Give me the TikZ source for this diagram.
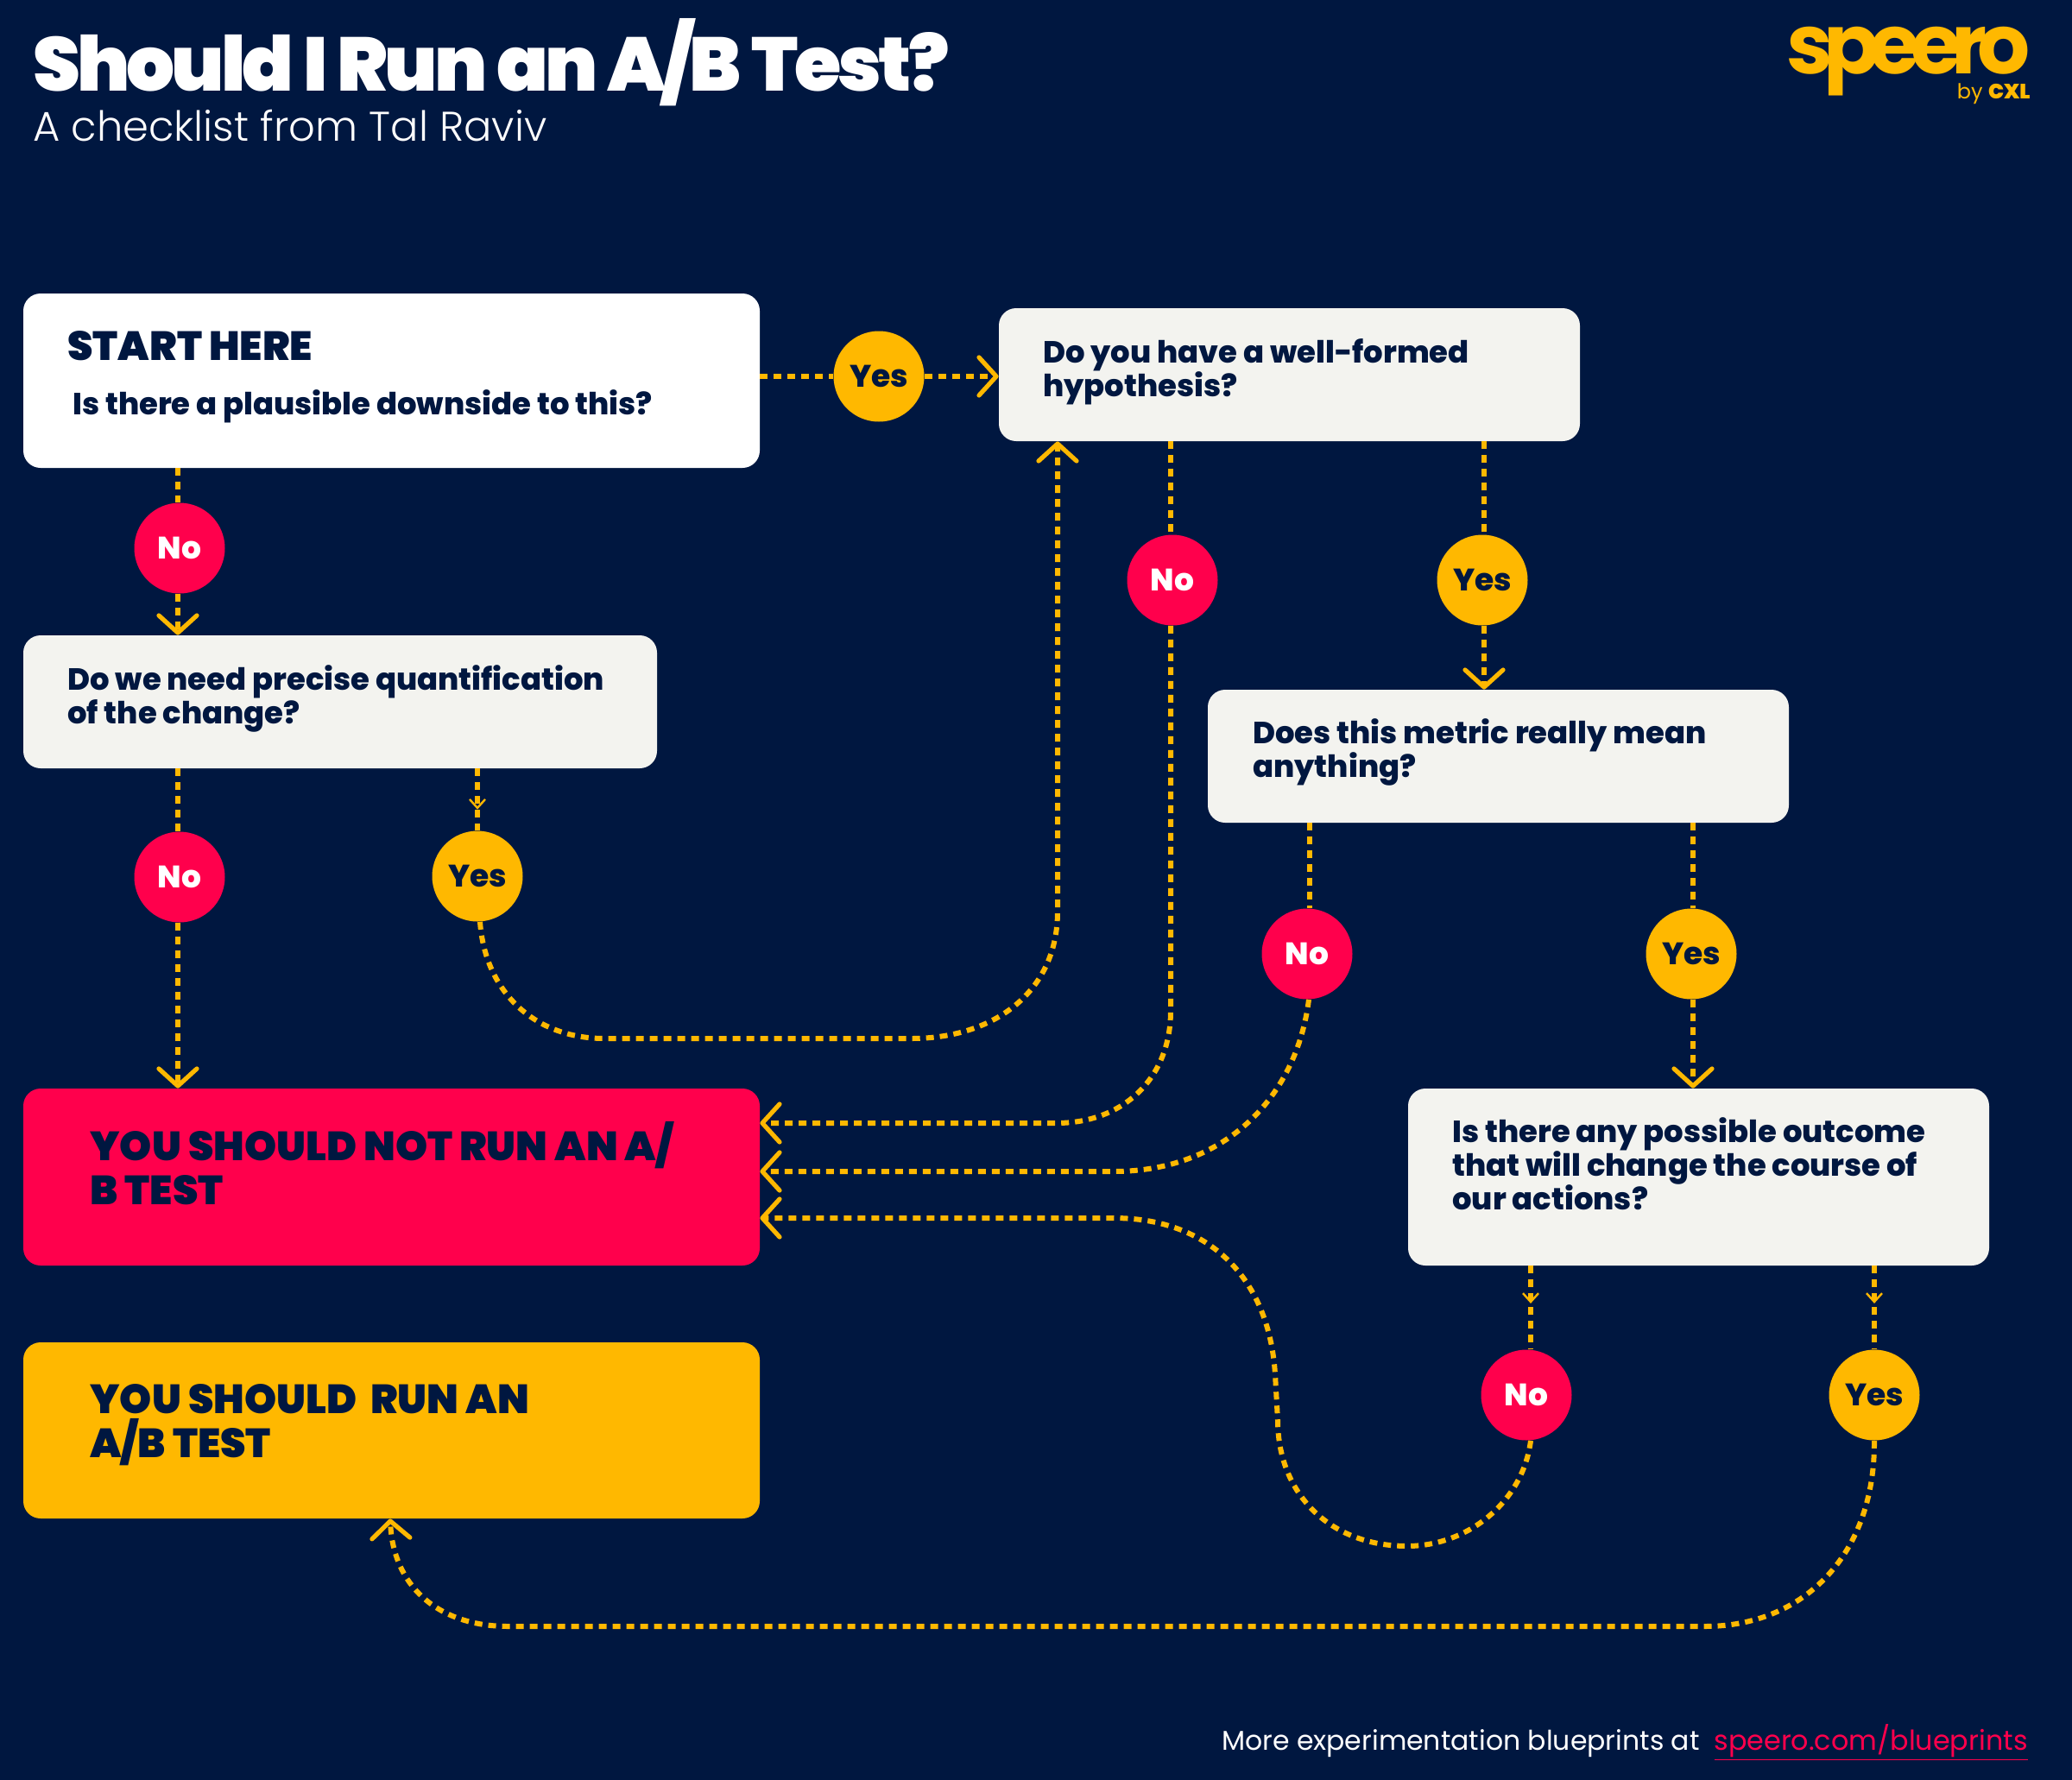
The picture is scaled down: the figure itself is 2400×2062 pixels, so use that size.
\documentclass[tikz,border=0pt]{standalone}
\usepackage{fontspec}
\usetikzlibrary{arrows.meta,fit,decorations.markings}
\setmainfont{Poppins}
\newfontfamily\popheavy{Poppins ExtraBold}
\newfontfamily\popblack{Poppins Black}
\newfontfamily\poplight{Poppins Light}
\newfontfamily\poptitle{Poppins Black}[LetterSpace=-4.5]
\newfontfamily\poplogo{Poppins Bold}[LetterSpace=-12]
\definecolor{navy}{HTML}{001740}
\definecolor{amber}{HTML}{FFB800}
\definecolor{alarm}{HTML}{FF004C}
\definecolor{paper}{HTML}{F3F3EF}
\tikzset{
  box/.style={rounded corners=10pt, inner sep=0pt, fill=paper},
  qtext/.style={font=\fontsize{17.7}{19.5}\selectfont\popheavy, text=navy, align=left, inner sep=0pt, anchor=north west},
  bigtext/.style={font=\fontsize{23.6}{25.5}\selectfont\popblack, text=navy, align=left, inner sep=0pt, anchor=north west},
  yesdot/.style={circle, fill=amber, minimum size=52.5pt, inner sep=0pt, text=navy, font=\fontsize{18}{20}\selectfont\popheavy},
  nodot/.style={circle, fill=alarm, minimum size=52.5pt, inner sep=0pt, text=white, font=\fontsize{18}{20}\selectfont\popheavy},
  link/.style={draw=amber, line width=3pt, dash pattern=on 4.5pt off 3.5pt},
  tip/.style={link, -{Straight Barb[length=10pt,width=22pt,round,line width=2.6pt]}},
  midtip/.style={link, postaction={decorate}, decoration={markings,
    mark=at position #1 with {\arrow[draw=amber,solid]{Straight Barb[length=5pt,width=9pt,line width=1.2pt]}}}},
}
\newcommand{\yes}[2]{\node[yesdot] (#1) at (#2) {Yes};}
\newcommand{\nope}[2]{\node[nodot] (#1) at (#2) {No};}
\begin{document}
\begin{tikzpicture}[x=0.5pt,y=-0.5pt]
  \useasboundingbox (0,0) rectangle (2400,2062);
  \fill[navy] (0,0) rectangle (2400,2062);
  % heading
  \node[anchor=base west, inner sep=0pt, text=white, font=\fontsize{44}{44}\selectfont\poptitle] (title) at (38,105) {Should I Run an A/B Test?};
  \node[anchor=base west, inner sep=0pt, text=white, font=\fontsize{24}{24}\selectfont\poplight] (sub) at (38,163) {A checklist from Tal Raviv};
  \node[anchor=base east, inner sep=0pt, text=amber, font=\fontsize{48}{48}\selectfont\poplogo] (logo) at (2352,85) {speero};
  \node[anchor=base east, inner sep=0pt, text=amber, font=\fontsize{12}{12}\selectfont] (byline) at (2352,114) {by {\popblack CXL}};
  % boxes
  \node[box, fill=white, fit={(27,340) (880,542)}] (start) {};
  \node[box, fit={(1157,357) (1830,511)}] (hyp) {};
  \node[box, fit={(27,736) (761,890)}] (precise) {};
  \node[box, fit={(1399,799) (2072,953)}] (metric) {};
  \node[box, fit={(1631,1261) (2304,1466)}] (outcome) {};
  \node[box, fill=alarm, fit={(27,1261) (880,1466)}] (notrun) {};
  \node[box, fill=amber, fit={(27,1555) (880,1759)}] (dorun) {};
  \node[bigtext] (starthead) at (78,383) {START HERE};
  \node[qtext] (startq) at (84,451) {Is there a plausible downside to this?};
  \node[qtext] (hypq) at (1208,392) {Do you have a well-formed\\hypothesis?};
  \node[qtext] (preciseq) at (78,770) {Do we need precise quantification\\of the change?};
  \node[qtext] (metricq) at (1451,832) {Does this metric really mean\\anything?};
  \node[qtext] (outcomeq) at (1682,1294) {Is there any possible outcome\\that will change the course of\\our actions?};
  \node[bigtext] (notruntxt) at (104,1299) {YOU SHOULD NOT RUN AN A/\\B TEST};
  \node[bigtext] (doruntxt) at (104,1603) {YOU SHOULD\ \ RUN AN\\A/B TEST};
  % answers
  \yes{yesa}{1018,436}
  \nope{noa}{208,635}
  \nope{nob}{208,1016}
  \yes{yesb}{553,1015}
  \nope{noc}{1358,672}
  \yes{yesc}{1717,672}
  \nope{nod}{1514,1105}
  \yes{yesd}{1959,1105}
  \nope{noe}{1768,1616}
  \yes{yese}{2171,1616}
  % connectors
  \draw[link] (start.east |- yesa) -- (yesa);
  \draw[tip] (yesa) -- (hyp.west |- yesa);
  \draw[link] (206,0 |- start.south) -- (206,0 |- noa.north);
  \draw[tip] (206,0 |- noa.south) -- (206,0 |- precise.north);
  \draw[link] (206,0 |- precise.south) -- (206,0 |- nob.north);
  \draw[tip] (206,0 |- nob.south) -- (206,0 |- notrun.north);
  \draw[midtip=0.66] (yesb.north |- precise.south) -- (yesb.north);
  \draw[tip] (556,0 |- yesb.south) .. controls (562,1150) and (620,1203) .. (700,1203) -- (1056,1203)
    .. controls (1150,1203) and (1225,1150) .. (1225,1056) -- (1225,0 |- hyp.south);
  \draw[link] (1356,0 |- hyp.south) -- (1356,0 |- noc.north);
  \draw[tip] (1356,0 |- noc.south) -- (1356,1171) .. controls (1356,1250) and (1300,1301) .. (1224,1301) -- (notrun.east |- 0,1301);
  \draw[link] (1719,0 |- hyp.south) -- (1719,0 |- yesc.north);
  \draw[tip] (1719,0 |- yesc.south) -- (1719,0 |- metric.north);
  \draw[link] (1517,0 |- metric.south) -- (1517,0 |- nod.north);
  \draw[tip] (1516,0 |- nod.south) .. controls (1502,1270) and (1420,1357) .. (1290,1357) -- (notrun.east |- 0,1357);
  \draw[link] (1961,0 |- metric.south) -- (1961,0 |- yesd.north);
  \draw[tip] (1961,0 |- yesd.south) -- (1961,0 |- outcome.north);
  \draw[midtip=0.45] (1773,0 |- outcome.south) -- (1773,0 |- noe.north);
  \draw[midtip=0.45] (yese.north |- outcome.south) -- (yese.north);
  \draw[tip] (1773,0 |- noe.south) .. controls (1764,1740) and (1700,1791) .. (1630,1791)
    .. controls (1540,1791) and (1480,1730) .. (1480,1645) -- (1477,1592)
    .. controls (1470,1480) and (1400,1411) .. (1290,1411) -- (notrun.east |- 0,1411);
  \draw[tip] (yese.south) .. controls (2172,1800) and (2090,1884) .. (1975,1884) -- (589,1884)
    .. controls (505,1884) and (455,1835) .. (452,0 |- dorun.south);
  % footer
  \node[anchor=base east, inner sep=0pt, text=alarm, font=\fontsize{15.9}{18}\selectfont] (linktxt) at (2349,2027) {\underline{speero.com/blueprints}};
  \node[anchor=base east, inner sep=0pt, text=white, font=\fontsize{15.75}{18}\selectfont] (foot) at (1969,2027) {More experimentation blueprints at};
\end{tikzpicture}
\end{document}
